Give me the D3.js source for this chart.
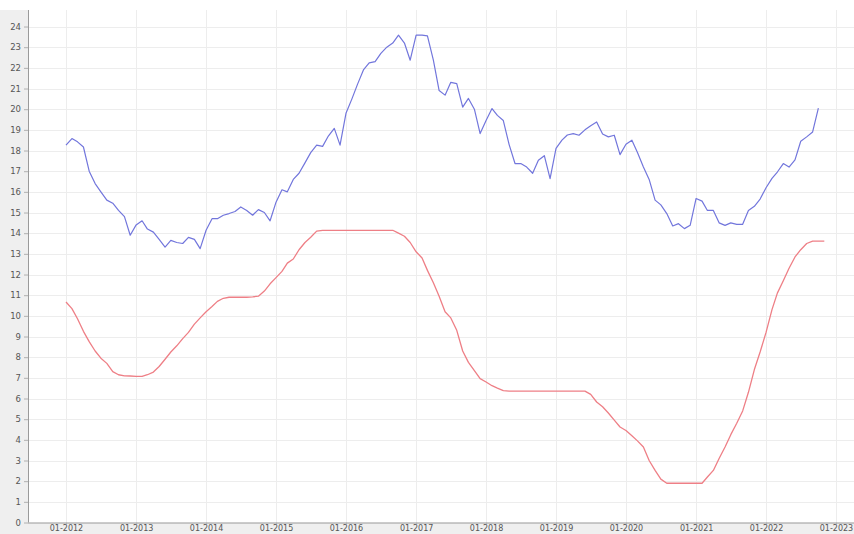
<!DOCTYPE html>
<html>
<head>
<meta charset="utf-8">
<script src="https://cdn.jsdelivr.net/npm/d3@7"></script>
<style>
  html, body { margin: 0; padding: 0; background: #ffffff; }
  svg { display: block; }
  text { font-family: "DejaVu Sans", sans-serif; }
</style>
</head>
<body>
<div id="chart"></div>
<script>
// ---- data (monthly, starting 01-2012) ----
const startMonth = "2012-01";
const blueValues = [
  18.26, 18.58, 18.42, 18.17, 17.0, 16.4, 16.0, 15.6, 15.45, 15.1, 14.8, 13.9,
  14.4, 14.6, 14.2, 14.05, 13.7, 13.33, 13.65, 13.55, 13.5, 13.8, 13.7, 13.25,
  14.14, 14.7, 14.7, 14.87, 14.95, 15.05, 15.27, 15.1, 14.87, 15.14, 15.0, 14.6,
  15.5, 16.1, 16.0, 16.6, 16.9, 17.4, 17.9, 18.26, 18.2, 18.7, 19.07, 18.26,
  19.8, 20.5, 21.2, 21.9, 22.24, 22.3, 22.7, 23.0, 23.2, 23.58, 23.2, 22.37,
  23.58, 23.58, 23.55, 22.37, 20.9, 20.68, 21.3, 21.24, 20.1, 20.52, 20.0, 18.82,
  19.45, 20.03, 19.7, 19.45, 18.3, 17.37, 17.37, 17.2, 16.9, 17.53, 17.75, 16.64,
  18.1, 18.5, 18.75, 18.82, 18.74, 19.0, 19.2, 19.38, 18.8, 18.66, 18.74, 17.8,
  18.3, 18.5, 17.9, 17.2, 16.6, 15.6, 15.37, 14.95, 14.35, 14.46, 14.22, 14.38,
  15.68, 15.55, 15.1, 15.1, 14.5, 14.38, 14.5, 14.43, 14.43, 15.1, 15.3, 15.65,
  16.2, 16.65, 16.96, 17.37, 17.2, 17.55, 18.45, 18.66, 18.9, 20.05
];
const redValues = [
  10.67, 10.35, 9.86, 9.25, 8.75, 8.3, 7.95, 7.7, 7.3, 7.15, 7.1, 7.09,
  7.07, 7.07, 7.15, 7.28, 7.55, 7.9, 8.25, 8.55, 8.9, 9.2, 9.6, 9.9,
  10.2, 10.45, 10.7, 10.85, 10.9, 10.9, 10.9, 10.9, 10.92, 10.95, 11.2, 11.55,
  11.85, 12.15, 12.55, 12.75, 13.2, 13.55, 13.8, 14.1, 14.14, 14.14, 14.14, 14.14,
  14.14, 14.14, 14.14, 14.14, 14.14, 14.14, 14.14, 14.14, 14.14, 14.0, 13.85, 13.55,
  13.1, 12.8, 12.2, 11.6, 10.95, 10.2, 9.9, 9.3, 8.3, 7.75, 7.35, 6.96,
  6.8, 6.62, 6.5, 6.38, 6.36, 6.36, 6.36, 6.36, 6.36, 6.36, 6.36, 6.36,
  6.36, 6.36, 6.36, 6.36, 6.36, 6.36, 6.2, 5.83, 5.6, 5.3, 4.95, 4.62,
  4.45, 4.2, 3.95, 3.65, 3.0, 2.52, 2.1, 1.9, 1.9, 1.9, 1.9, 1.9,
  1.9, 1.9, 2.2, 2.52, 3.1, 3.65, 4.25, 4.8, 5.4, 6.3, 7.4, 8.25,
  9.2, 10.3, 11.1, 11.7, 12.3, 12.85, 13.2, 13.5, 13.62, 13.62, 13.62
];
const xTickLabels = ["01-2012","01-2013","01-2014","01-2015","01-2016","01-2017",
                     "01-2018","01-2019","01-2020","01-2021","01-2022","01-2023"];
const yTickValues = d3.range(0, 25, 1);

// ---- layout ----
const W = 854, H = 534;
const plot = { left: 28, top: 10, right: 854, bottom: 522.5 };

const parseMonth = d3.timeParse("%m-%Y");
const start = d3.timeParse("%Y-%m")(startMonth);
const monthDate = i => d3.timeMonth.offset(start, i);

const x = d3.scaleTime()
  .domain([parseMonth("01-2012"), parseMonth("01-2023")])
  .range([66, 836]);
const y = d3.scaleLinear()
  .domain([0, 24.8])
  .range([plot.bottom, plot.top]);

const svg = d3.select("#chart").append("svg")
  .attr("width", W).attr("height", H);

// background frame
svg.append("rect").attr("x", 0).attr("y", 0).attr("width", W).attr("height", H).attr("fill", "#ffffff");
svg.append("rect").attr("x", 0).attr("y", plot.top).attr("width", plot.left).attr("height", H - plot.top).attr("fill", "#efefef");
svg.append("rect").attr("x", 0).attr("y", plot.bottom).attr("width", W).attr("height", H - plot.bottom).attr("fill", "#efefef");
svg.append("rect").attr("x", plot.left).attr("y", plot.top)
  .attr("width", plot.right - plot.left).attr("height", plot.bottom - plot.top).attr("fill", "#ffffff");

const tickDates = xTickLabels.map(parseMonth);

// grid
const grid = svg.append("g");
grid.selectAll("line.h").data(yTickValues.filter(v => v > 0)).join("line")
  .attr("x1", plot.left).attr("x2", plot.right)
  .attr("y1", d => Math.round(y(d)) + 0.5).attr("y2", d => Math.round(y(d)) + 0.5)
  .attr("stroke", "#ededed").attr("stroke-width", 1);
grid.selectAll("line.v").data(tickDates).join("line")
  .attr("y1", plot.top).attr("y2", plot.bottom)
  .attr("x1", d => Math.round(x(d)) + 0.5).attr("x2", d => Math.round(x(d)) + 0.5)
  .attr("stroke", "#ededed").attr("stroke-width", 1);

// axes
const yAxis = d3.axisLeft(y).tickValues(yTickValues).tickSize(4).tickPadding(3).tickFormat(d3.format("d"));
const gy = svg.append("g").attr("transform", `translate(${plot.left},0)`).call(yAxis);
gy.select(".domain").attr("stroke", "#9a9a9a").attr("d", `M0.5,${plot.top}V${plot.bottom}`);
gy.selectAll(".tick line").attr("stroke", "#b0b0b0");
gy.selectAll(".tick text").attr("fill", "#555").style("font-size", "8.5px");

const xAxis = d3.axisBottom(x).tickValues(tickDates).tickSize(2).tickPadding(1)
  .tickFormat((d, i) => xTickLabels[i]);
const gx = svg.append("g").attr("transform", `translate(0,${plot.bottom})`).call(xAxis);
gx.select(".domain").attr("stroke", "#9a9a9a").attr("d", `M${plot.left},0.5H${plot.right}`);
gx.selectAll(".tick line").attr("stroke", "#b0b0b0");
gx.selectAll(".tick text").attr("fill", "#555").style("font-size", "8px");

// lines
svg.append("clipPath").attr("id", "clip").append("rect")
  .attr("x", plot.left).attr("y", plot.top)
  .attr("width", plot.right - plot.left).attr("height", plot.bottom - plot.top);

const line = d3.line()
  .x((d, i) => x(monthDate(i)))
  .y(d => y(d));

const lines = svg.append("g").attr("clip-path", "url(#clip)");
lines.append("path").datum(redValues)
  .attr("d", line).attr("fill", "none")
  .attr("stroke", "#ee7f86").attr("stroke-width", 1.3).attr("stroke-linejoin", "round");
lines.append("path").datum(blueValues)
  .attr("d", line).attr("fill", "none")
  .attr("stroke", "#7276dc").attr("stroke-width", 1.2).attr("stroke-linejoin", "round");
</script>
</body>
</html>
